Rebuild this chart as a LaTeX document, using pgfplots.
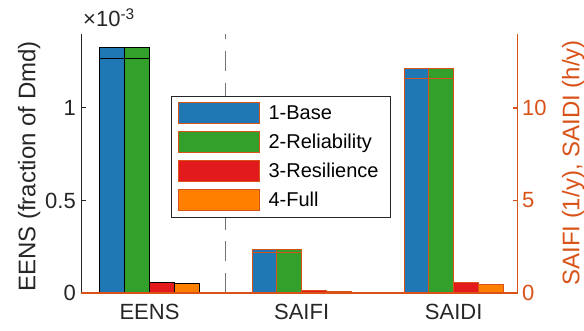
\documentclass[border=0pt]{standalone}
\usepackage{fontspec}
\setmainfont{Liberation Sans}
\usepackage{pgfplots}
\usepackage{pgfplotstable}
\pgfplotsset{compat=1.18}

\definecolor{cBase}{RGB}{31,120,180}
\definecolor{cRel}{RGB}{51,160,44}
\definecolor{cRes}{RGB}{227,26,28}
\definecolor{cFull}{RGB}{255,127,0}
\definecolor{rightax}{RGB}{217,83,25}
\definecolor{axgray}{RGB}{38,38,38}
\definecolor{dashgray}{RGB}{115,115,115}

% EENS, in units of 1e-3 (fraction of demand); *In = level of the inner edge line
\pgfplotstableread{
x base rel res full baseIn relIn
1 1.326 1.326 0.056 0.051 1.270 1.270
}\eenstab
% SAIFI (1/y) at x=2 and SAIDI (h/y) at x=3
\pgfplotstableread{
x base rel res full baseIn relIn
2 2.33 2.33 0.15 0.07 2.20 2.20
3 12.12 12.12 0.56 0.47 11.58 11.58
}\reltab

\pgfplotsset{
  frame/.style={
    scale only axis, width=436.4bp, height=259bp,
    at={(81.3bp,38bp)}, anchor=south west,
    xmin=0.5516, xmax=3.4208, ymin=0,
    major tick length=5bp,
    tick label style={font=\fontsize{22bp}{26bp}\selectfont},
    /pgf/number format/assume math mode=true,
    clip=false,
  },
  barleg/.style={legend image code/.code={
    \draw[##1, line width=1bp] (0bp,-10.5bp) rectangle (80.7bp,10.5bp);}},
  bw/.style={ybar, bar width=0.163, bar shift=#1},
}

\begin{document}
\begin{tikzpicture}
\useasboundingbox (0,0) rectangle (584bp,331bp);

% left axis: EENS
\begin{axis}[frame,
  ymax=1.4,
  axis y line*=left, axis x line*=bottom,
  x axis line style={draw=none},
  y axis line style={draw=axgray, line width=1bp},
  ytick={0,0.5,1}, yticklabels={0,0.5,1},
  y tick style={draw=axgray, line width=1bp},
  yticklabel style={text=axgray, xshift=-2bp},
  xtick={1,2,3}, xticklabels={EENS,SAIFI,SAIDI},
  major x tick style={draw=none},
  xticklabel style={text=axgray, yshift=-8bp},
  ylabel={EENS (fraction of Dmd)},
  every axis y label/.style={at={(axis description cs:-0.105,0.488)},
    anchor=base, rotate=90, text=axgray,
    font=\fontsize{24bp}{28bp}\selectfont},
]
\addplot[bw=-0.2445, fill=cBase, draw=black, line width=1bp] table[x=x,y=base]{\eenstab};
\addplot[bw=-0.2445, fill=cBase, draw=black, line width=1bp] table[x=x,y=baseIn]{\eenstab};
\addplot[bw=-0.0815, fill=cRel, draw=black, line width=1bp] table[x=x,y=rel]{\eenstab};
\addplot[bw=-0.0815, fill=cRel, draw=black, line width=1bp] table[x=x,y=relIn]{\eenstab};
\addplot[bw=0.0815, fill=cRes, draw=black, line width=1bp] table[x=x,y=res]{\eenstab};
\addplot[bw=0.2445, fill=cFull, draw=black, line width=1bp] table[x=x,y=full]{\eenstab};
% separator between energy and frequency/duration indices
\addplot[sharp plot, draw=dashgray, line width=1.6bp,
  dash pattern=on 20bp off 11.7bp]
  coordinates {(1.5,0) (1.5,1.4)};
\node[anchor=base west, inner sep=0pt, text=axgray,
  font=\fontsize{22bp}{26bp}\selectfont]
  at (axis description cs:0.004,1.028) {×10\textsuperscript{-3}};
\end{axis}

% right axis: SAIFI and SAIDI
\begin{axis}[frame,
  ymax=14,
  axis y line*=right, axis x line=none,
  y axis line style={draw=rightax, line width=1.3bp},
  ytick={0,5,10}, yticklabels={0,5,10},
  y tick style={draw=rightax, line width=1.3bp},
  yticklabel style={text=rightax, xshift=1bp},
  ylabel={SAIFI (1/y), SAIDI (h/y)},
  every axis y label/.style={at={(axis description cs:1.1412,0.502)},
    anchor=base, rotate=90, text=rightax,
    font=\fontsize{24bp}{28bp}\selectfont},
  legend cell align=left,
  legend style={at={(0.2055,0.7606)}, anchor=north west,
    draw=axgray, line width=0.8bp, fill=white,
    inner xsep=6.5bp, inner ysep=6bp, row sep=7bp,
    font=\fontsize{20bp}{24bp}\selectfont,
    /tikz/every odd column/.append style={column sep=7bp},
    /tikz/every even column/.append style={text height=14.3bp, text depth=0pt,
      text width=113bp, inner sep=0pt}},
]
\addplot[sharp plot, draw=rightax, line width=1.3bp, forget plot]
  coordinates {(0.5516,0) (3.4208,0)};
\addplot[bw=-0.2445, fill=cBase, draw=rightax, line width=1bp, barleg] table[x=x,y=base]{\reltab};
\addlegendentry{1-Base}
\addplot[bw=-0.0815, fill=cRel, draw=rightax, line width=1bp, barleg] table[x=x,y=rel]{\reltab};
\addlegendentry{2-Reliability}
\addplot[bw=0.0815, fill=cRes, draw=rightax, line width=1bp, barleg] table[x=x,y=res]{\reltab};
\addlegendentry{3-Resilience}
\addplot[bw=0.2445, fill=cFull, draw=rightax, line width=1bp, barleg] table[x=x,y=full]{\reltab};
\addlegendentry{4-Full}
\addplot[bw=-0.2445, fill=cBase, draw=rightax, line width=1bp, forget plot] table[x=x,y=baseIn]{\reltab};
\addplot[bw=-0.0815, fill=cRel, draw=rightax, line width=1bp, forget plot] table[x=x,y=relIn]{\reltab};
\end{axis}
\end{tikzpicture}
\end{document}
